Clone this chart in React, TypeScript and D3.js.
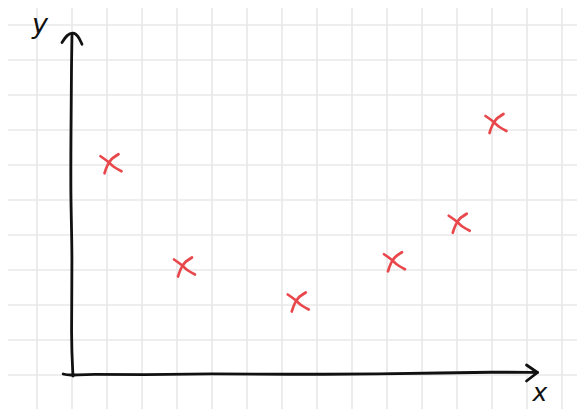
import * as d3 from "d3";

// data (grid units)
const xValues = [1.1, 3.2, 6.45, 9.2, 11.05, 12.1];
const yValues = [6.05, 3.1, 2.1, 3.25, 4.35, 7.2];
const axisLabels = { x: "x", y: "y" };

const W = 577;
const H = 409;
const cell = 35;

export default function App() {
  const x = d3.scaleLinear().domain([0, 1]).range([72, 72 + cell]);
  const y = d3.scaleLinear().domain([0, 1]).range([375, 375 - cell]);

  const gridX = d3.range(-1, 15).map((v) => x(v)).filter((p) => p > 8 && p < W);
  const gridY = d3.range(-1, 11).map((v) => y(v)).filter((p) => p > 8 && p < H + 2);

  const line = d3.line<[number, number]>().curve(d3.curveBasis);

  // slightly wobbly hand-drawn axes
  const yAxisPath = line([
    [x(0) + 1, y(0) + 1],
    [x(0) - 1, y(1)],
    [x(0) + 0.5, y(3.5)],
    [x(0) - 1.5, y(5)],
    [x(0) - 1, y(7)],
    [x(0) - 0.5, y(9)],
    [x(0), y(9.75)],
  ]);
  const xAxisPath = line([
    [x(-0.25), y(0) - 1],
    [x(-0.1), y(0) + 0.5],
    [x(0.5), y(0) - 1],
    [x(2), y(0)],
    [x(4), y(0) - 1.5],
    [x(6), y(0) - 0.5],
    [x(9), y(0) - 1],
    [x(10.5), y(0) - 2],
    [x(12), y(0) - 3],
    [x(13.3), y(0) - 2.5],
  ]);
  const yArrow = line([
    [x(0) - 10, y(9.5)],
    [x(0) - 5, y(9.72)],
    [x(0) + 1, y(9.8)],
    [x(0) + 6, y(9.7)],
    [x(0) + 10, y(9.45)],
  ]);
  const xArrow = d3.line()([
    [x(13.3) - 11, y(0) - 10],
    [x(13.3), y(0) - 2.5],
    [x(13.3) - 11, y(0) + 6],
  ]);

  const mark = d3.line<[number, number]>().curve(d3.curveCatmullRom);

  return (
    <svg
      width={W}
      height={H}
      style={{ position: "absolute", left: 0, top: 0, display: "block" }}
    >
      <g stroke="#e8e8e8" strokeWidth={1.6}>
        {gridX.map((p, i) => (
          <line key={"gx" + i} x1={p} x2={p} y1={8} y2={H} />
        ))}
        {gridY.map((p, i) => (
          <line key={"gy" + i} x1={8} x2={W} y1={p} y2={p} />
        ))}
      </g>

      <g fill="none" stroke="#111" strokeWidth={2.8} strokeLinecap="round" strokeLinejoin="round">
        <path d={yAxisPath || ""} />
        <path d={xAxisPath || ""} />
        <path d={yArrow || ""} />
        <path d={xArrow || ""} />
      </g>

      <text
        x={40}
        y={33}
        textAnchor="middle"
        fontFamily="DejaVu Sans"
        fontStyle="italic"
        fontSize={27}
        fill="#111"
      >
        {axisLabels.y}
      </text>
      <text
        x={540}
        y={401}
        textAnchor="middle"
        fontFamily="DejaVu Sans"
        fontStyle="italic"
        fontSize={25}
        fill="#111"
      >
        {axisLabels.x}
      </text>

      <g fill="none" stroke="#e8484c" strokeWidth={2.7} strokeLinecap="round">
        {xValues.map((v, i) => {
          const cx = x(v);
          const cy = y(yValues[i]);
          return (
            <g key={i} transform={`translate(${cx},${cy})`}>
              <path
                d={
                  mark([
                    [-10, -7],
                    [-3, -2],
                    [4, 4],
                    [11, 8],
                  ]) || ""
                }
              />
              <path
                d={
                  mark([
                    [8, -9],
                    [1, -4],
                    [-3, 2],
                    [-6, 10],
                  ]) || ""
                }
              />
            </g>
          );
        })}
      </g>
    </svg>
  );
}
